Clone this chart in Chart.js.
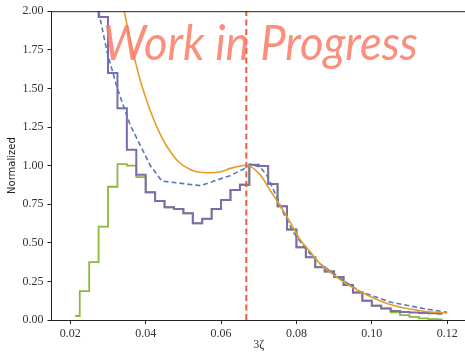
<!DOCTYPE html>
<html>
<head>
<meta charset="utf-8">
<script src="https://cdn.jsdelivr.net/npm/chart.js@4.4.1/dist/chart.umd.min.js"></script>
<style>
    html, body { margin: 0; padding: 0; background: #fff; overflow: hidden; }
    #wrap { width: 467px; height: 353px; }
</style>
</head>
<body>
<div id="wrap"><canvas id="chart" width="467" height="353"></canvas></div>
<script>
// Bin centres of the two histograms (width 0.0025)
const binCenters = [
    0.02125, 0.02375, 0.02625, 0.02875, 0.03125, 0.03375, 0.03625, 0.03875,
    0.04125, 0.04375, 0.04625, 0.04875, 0.05125, 0.05375, 0.05625, 0.05875,
    0.06125, 0.06375, 0.06625, 0.06875, 0.07125, 0.07375, 0.07625, 0.07875,
    0.08125, 0.08375, 0.08625, 0.08875, 0.09125, 0.09375, 0.09625, 0.09875,
    0.10125, 0.10375, 0.10625, 0.10875, 0.11125, 0.11375, 0.11625, 0.11875
];
// purple histogram
const histPurple = [
    3.20, 2.70, 2.30, 1.963, 1.60, 1.372, 1.102, 0.941,
    0.827, 0.771, 0.730, 0.719, 0.691, 0.626, 0.655, 0.719,
    0.778, 0.842, 0.876, 1.005, 0.998, 0.881, 0.736, 0.586,
    0.471, 0.407, 0.342, 0.314, 0.278, 0.226, 0.178, 0.125,
    0.093, 0.075, 0.058, 0.052, 0.048, 0.045, 0.043, 0.041
];
// green histogram
const histGreen = [
    0.026, 0.187, 0.375, 0.605, 0.863, 1.010, 1.000, 0.925,
    0.827, 0.771, 0.730, 0.719, 0.691, 0.626, 0.655, 0.719,
    0.778, 0.842, 0.876, 1.005, 0.998, 0.881, 0.736, 0.586,
    0.471, 0.407, 0.342, 0.314, 0.278, 0.226, 0.178, 0.125,
    0.093, 0.075, 0.050, 0.032, 0.020, 0.010, 0.006, 0.004
];
// orange smooth curve
const fitX = [0.0322, 0.0343, 0.0368, 0.0386, 0.0403, 0.0421, 0.0439, 0.0456, 0.0483, 0.0518,
              0.0563, 0.0598, 0.0625, 0.0655, 0.0667, 0.0704, 0.0730, 0.0757, 0.0784, 0.0810,
              0.0837, 0.0863, 0.0916, 0.0969, 0.1049, 0.1137, 0.1200];
const fitY = [2.30, 2.00, 1.72, 1.548, 1.419, 1.30, 1.20, 1.125, 1.035, 0.975,
              0.954, 0.960, 0.982, 0.999, 1.002, 0.940, 0.840, 0.740, 0.630, 0.520,
              0.440, 0.364, 0.262, 0.185, 0.100, 0.057, 0.045];
// blue dashed curve
const avgX = [0.0265, 0.0275, 0.0297, 0.0324, 0.0359, 0.0394, 0.0412, 0.0443, 0.0545, 0.0624,
              0.0660, 0.0677, 0.0704, 0.0722, 0.0748, 0.0766, 0.0792, 0.0828, 0.0863, 0.0916,
              0.0969, 0.1049, 0.1137, 0.1200];
const avgY = [2.15, 2.00, 1.742, 1.505, 1.262, 1.09, 1.00, 0.90, 0.87, 0.935,
              0.978, 1.01, 0.99, 0.935, 0.795, 0.69, 0.568, 0.45, 0.364, 0.27,
              0.185, 0.116, 0.074, 0.050];
const markerX = 0.0667;
const xTicks = [0.02, 0.04, 0.06, 0.08, 0.10, 0.12];
const yTicks = [0, 0.25, 0.5, 0.75, 1.0, 1.25, 1.5, 1.75, 2.0];

const pts = (xs, ys) => xs.map((x, i) => ({ x: x, y: ys[i] }));

// top spine + watermark
const extras = {
    id: 'extras',
    afterDatasetsDraw(chart) {
        const { ctx, chartArea } = chart;
        ctx.save();
        ctx.strokeStyle = '#222';
        ctx.lineWidth = 1;
        ctx.beginPath();
        ctx.moveTo(chartArea.left, chartArea.top + 0.5);
        ctx.lineTo(chartArea.right, chartArea.top + 0.5);
        ctx.stroke();

        const text = 'Work in Progress';
        ctx.font = 'italic 48px Lato, "Open Sans", sans-serif';
        const w = ctx.measureText(text).width;
        ctx.globalAlpha = 0.85;
        ctx.fillStyle = '#fa7a66';
        ctx.textBaseline = 'alphabetic';
        ctx.translate(103, 60);
        ctx.scale(315 / w, 1);
        ctx.fillText(text, 0, 0);
        ctx.restore();
    }
};

// Chart.js paints the first dataset on top, so the list runs top -> bottom
new Chart(document.getElementById('chart'), {
    type: 'line',
    data: {
        datasets: [
            {
                data: [{ x: markerX, y: 0 }, { x: markerX, y: 2 }],
                borderColor: '#e85d3c', borderWidth: 2, borderDash: [6, 3.5],
                pointRadius: 0, fill: false
            },
            {
                data: pts(fitX, fitY),
                borderColor: '#e69c22', borderWidth: 1.6,
                cubicInterpolationMode: 'monotone', pointRadius: 0, fill: false
            },
            {
                data: pts(avgX, avgY),
                borderColor: '#5478b8', borderWidth: 1.6, borderDash: [5, 3],
                pointRadius: 0, fill: false, tension: 0
            },
            {
                data: pts(binCenters, histPurple),
                borderColor: '#7b6cae', borderWidth: 2,
                stepped: 'middle', pointRadius: 0, fill: false
            },
            {
                data: pts(binCenters, histGreen),
                borderColor: '#8cb83f', borderWidth: 1.8,
                stepped: 'middle', pointRadius: 0, fill: false
            }
        ]
    },
    options: {
        responsive: false,
        animation: false,
        layout: { padding: { top: 10, right: 1, left: 0, bottom: 0 } },
        plugins: { legend: { display: false }, tooltip: { enabled: false } },
        scales: {
            x: {
                type: 'linear', min: 0.015, max: 0.125,
                afterBuildTicks: s => { s.ticks = xTicks.map(v => ({ value: v })); },
                afterFit: s => { s.height = 33; },
                ticks: {
                    callback: v => v.toFixed(2),
                    font: { family: 'Liberation Serif', size: 12 }, color: '#333', padding: 3,
                    maxRotation: 0
                },
                grid: { drawOnChartArea: false, tickLength: 4, color: '#222' },
                border: { color: '#222', width: 1 },
                title: {
                    display: true, text: '3ζ',
                    font: { family: 'Liberation Serif', size: 12 }, color: '#333',
                    padding: { top: 0, bottom: 1 }
                }
            },
            y: {
                min: 0, max: 2,
                afterBuildTicks: s => { s.ticks = yTicks.map(v => ({ value: v })); },
                afterFit: s => { s.width = 51.5; },
                ticks: {
                    callback: v => v.toFixed(2),
                    font: { family: 'Liberation Serif', size: 12 }, color: '#333', padding: 4
                },
                grid: { drawOnChartArea: false, tickLength: 4, color: '#222' },
                border: { color: '#222', width: 1 },
                title: {
                    display: true, text: 'Normalized',
                    font: { family: 'DejaVu Sans', size: 10 }, color: '#222',
                    padding: { top: 6, bottom: 0 }
                }
            }
        }
    },
    plugins: [extras]
});
</script>
</body>
</html>
